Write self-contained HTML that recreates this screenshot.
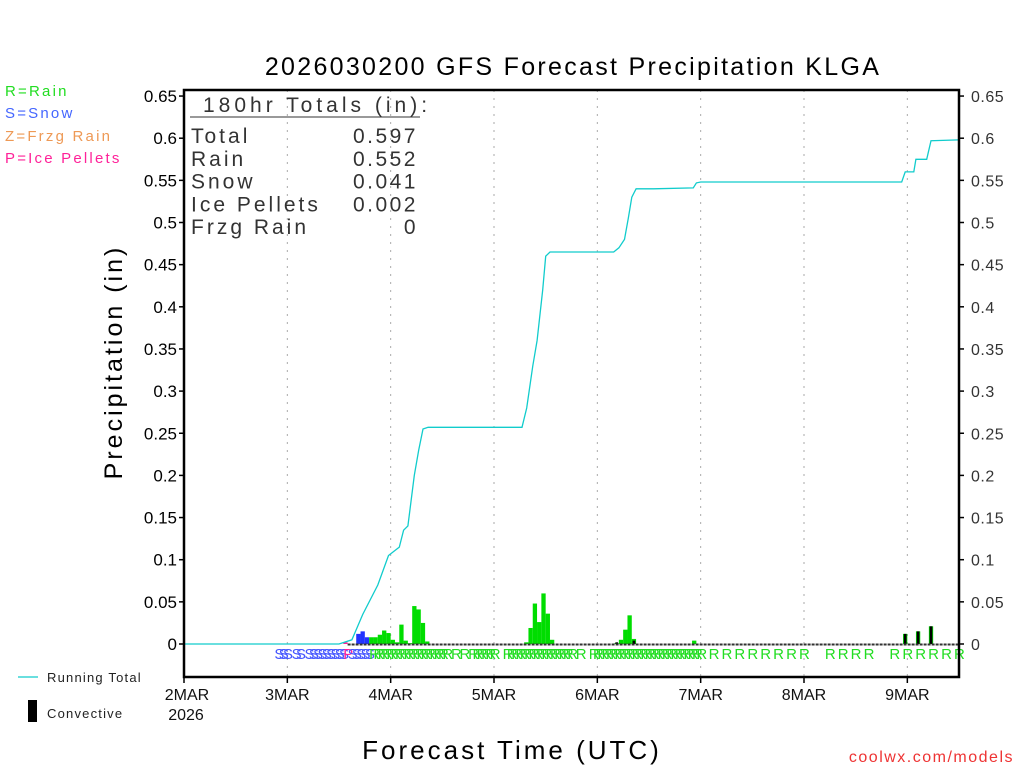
<!DOCTYPE html>
<html><head><meta charset="utf-8"><style>
body{margin:0;background:#fff}
svg{display:block}
text{font-family:"Liberation Sans",sans-serif}
</style></head><body>
<svg id="chart" width="1024" height="768" viewBox="0 0 1024 768"></svg>
<script>
// ---- data ----
const tickValues=[0,0.05,0.1,0.15,0.2,0.25,0.3,0.35,0.4,0.45,0.5,0.55,0.6,0.65];
const tickLabels=["0","0.05","0.1","0.15","0.2","0.25","0.3","0.35","0.4","0.45","0.5","0.55","0.6","0.65"];
const dayLabels=["2MAR","3MAR","4MAR","5MAR","6MAR","7MAR","8MAR","9MAR"];
const barHours=[37,40,41,42,43,44,45,46,47,48,49,50,51,52,53,54,55,56,79,80,81,82,83,84,85,100,101,102,103,104,118,167,170,173];
const barValues=[0.002,0.012,0.015,0.008,0.008,0.008,0.011,0.016,0.013,0.005,0.002,0.023,0.004,0.001,0.045,0.041,0.025,0.003,0.002,0.019,0.048,0.026,0.060,0.036,0.005,0.001,0.005,0.017,0.034,0.006,0.004,0.012,0.015,0.021];
const barTypes=["P","S","S","S","R","R","R","R","R","R","R","R","R","R","R","R","R","R","R","R","R","R","R","R","R","R","R","R","R","R","R","R","R","R"];
const convHours=[100,104,167,170,173];
const convValues=[0.002,0.004,0.012,0.015,0.021];
const totalHours=[0,36,39,41.5,45,47.5,50,51,52,53.5,54.5,55.5,56.7,78.5,79.6,81,82,83.3,84,85,99.8,101,102.3,103.2,104,105,109,118.3,119,120,166.7,167.5,169.5,170,172.5,173.5,180];
const totalValues=[0,0,0.005,0.035,0.07,0.105,0.115,0.135,0.14,0.2,0.23,0.255,0.257,0.257,0.28,0.33,0.36,0.42,0.46,0.465,0.465,0.47,0.48,0.505,0.53,0.54,0.54,0.541,0.547,0.548,0.548,0.56,0.56,0.575,0.575,0.597,0.598];
const typeHours=[21,22,23,25,26,28,29,30,31,32,33,34,35,36,37,38,39,40,41,42];
const typeLetters=["S","S","S","S","S","S","S","S","S","S","S","S","S","S","P","S","S","S","S","S"];
const rainHours=[];
for(let h=43;h<=60;h++)rainHours.push(h);
rainHours.push(62,64,66,67,68,69,70,71,74,75,76,77,78,79,80,81,82,83,84,85,86,87,88,89,91);
for(let h=94;h<=119;h++)rainHours.push(h);
rainHours.push(123,126,129,132,135,138,141,144,150,153,156,159,165,168,171,174,177,180);
const totalRows=[["Total","0.597"],["Rain","0.552"],["Snow","0.041"],["Ice Pellets","0.002"],["Frzg Rain","0"]];

// ---- axes ----
const X0=184,X1=959,YT=90,YB=677,Y0=644,PXV=843;
const xs=h=>X0+h*(X1-X0)/180;
const ys=v=>Y0-v*PXV;
const svg=document.getElementById('chart');
const NS='http://www.w3.org/2000/svg';
function mk(tag,attrs,parent){const e=document.createElementNS(NS,tag);for(const k in attrs)e.setAttribute(k,attrs[k]);(parent||svg).appendChild(e);return e;}
function txt(s,attrs,parent){const e=mk('text',attrs,parent);e.textContent=s;return e;}
const colors={R:'#00dd00',S:'#2233ff',P:'#ff2299',Z:'#ee9955'};
const lcolors={R:'#22dd22',S:'#4455ff',P:'#ff2299'};

// title
let e=txt("2026030200 GFS Forecast Precipitation KLGA",{x:573,y:75,'font-size':25,'text-anchor':'middle',fill:'#000','letter-spacing':'2.3'});


// grid
const gGrid=mk('g',{});
for(let d=1;d<8;d++){mk('line',{x1:xs(d*24),x2:xs(d*24),y1:YT,y2:YB,stroke:'#aaa','stroke-dasharray':'2,6'},gGrid);}

// bars
const gBars=mk('g',{});
const bw=(X1-X0)/180;
barHours.forEach((h,i)=>{
 const r=mk('rect',{x:xs(h),y:ys(barValues[i]),width:bw,height:ys(0)-ys(barValues[i]),fill:colors[barTypes[i]]},gBars);
 
 
});
convHours.forEach((h,i)=>{
 const r=mk('rect',{x:xs(h)+0.8,y:ys(convValues[i]),width:bw-1.6,height:ys(0)-ys(convValues[i]),fill:'#000'},gBars);
 
 
});
mk('line',{x1:xs(38),x2:X1,y1:Y0+0.5,y2:Y0+0.5,stroke:'#333','stroke-width':2,'stroke-dasharray':'3,1'});

// running total
let pts=totalHours.map((h,i)=>xs(h).toFixed(1)+','+ys(totalValues[i]).toFixed(1)).join(' ');
e=mk('polyline',{points:pts,fill:'none',stroke:'#11cccc','stroke-width':1.3});


// type letters
const gT=mk('g',{});
typeHours.forEach((h,i)=>{const t=txt(typeLetters[i],{x:xs(h),y:659,fill:lcolors[typeLetters[i]],'font-size':15},gT);});
rainHours.forEach(h=>{const t=txt('R',{x:xs(h)-(h>120?5:0),y:659,fill:'#22dd22','font-size':15},gT);});

// frame
e=mk('rect',{x:X0,y:YT,width:X1-X0,height:YB-YT,fill:'none',stroke:'#000','stroke-width':2.5});


// y ticks
const gY=mk('g',{});
const gY2=mk('g',{});
tickValues.forEach((v,i)=>{
 const y=ys(v);
 mk('line',{x1:X0-5,x2:X0,y1:y,y2:y,stroke:'#000','stroke-width':1.5},gY);
 txt(tickLabels[i],{x:X0-7,y:y+6,'font-size':17,'text-anchor':'end',fill:'#000'},gY);
 mk('line',{x1:X1,x2:X1+5,y1:y,y2:y,stroke:'#000','stroke-width':1.5},gY2);
 txt(tickLabels[i],{x:X1+12,y:y+6,'font-size':16,fill:'#333','letter-spacing':'0.5'},gY2);
});
e=txt("Precipitation  (in)",{x:0,y:0,'font-size':25,'text-anchor':'middle',fill:'#000','letter-spacing':'3',transform:'translate(122,362) rotate(-90)'});


// x ticks
const gX=mk('g',{});
dayLabels.forEach((d,i)=>{
 const x=xs(i*24);
 mk('line',{x1:x,x2:x,y1:YB,y2:YB+6,stroke:'#000','stroke-width':1.5},gX);
 txt(d,{x:i==0?x+3:x,y:700,'font-size':16,'text-anchor':'middle',fill:'#111'},gX);
});
txt("2026",{x:186,y:720,'font-size':16,'text-anchor':'middle',fill:'#111'},gX);
e=txt("Forecast Time (UTC)",{x:512,y:759,'font-size':26,'text-anchor':'middle',fill:'#000','letter-spacing':'3'});


// totals box
const gB=mk('g',{fill:'#333'});
txt("180hr Totals (in):",{x:203,y:112,'font-size':21,'letter-spacing':'4'},gB);
mk('line',{x1:190,x2:420,y1:117,y2:117,stroke:'#333','stroke-width':1},gB);
totalRows.forEach((r,i)=>{
 const y=143+i*22.8;
 txt(r[0],{x:191,y:y,'font-size':21,'letter-spacing':'3'},gB);
 txt(r[1],{x:418,y:y,'font-size':21,'text-anchor':'end','letter-spacing':'2.5'},gB);
});

// left legend
const gL=mk('g',{'font-size':15});
[["R=Rain","#22dd22",96],["S=Snow","#4466ff",118],["Z=Frzg Rain","#ee9955",141],["P=Ice Pellets","#ff2299",163]].forEach(a=>txt(a[0],{x:5,y:a[2],fill:a[1],'letter-spacing':'2.2'},gL));

// bottom legend
const gBL=mk('g',{});
mk('line',{x1:18,x2:38,y1:677,y2:677,stroke:'#11cccc','stroke-width':1.3},gBL);
txt("Running Total",{x:47,y:682,'font-size':13,fill:'#222','letter-spacing':'1.2'},gBL);
mk('rect',{x:28,y:700,width:9,height:22,fill:'#000'},gBL);
txt("Convective",{x:47,y:718,'font-size':13,fill:'#222','letter-spacing':'1.2'},gBL);

e=txt("coolwx.com/models",{x:1014,y:762,'font-size':16,'text-anchor':'end',fill:'#ee3333','letter-spacing':'1.5'});

</script>
</body></html>
